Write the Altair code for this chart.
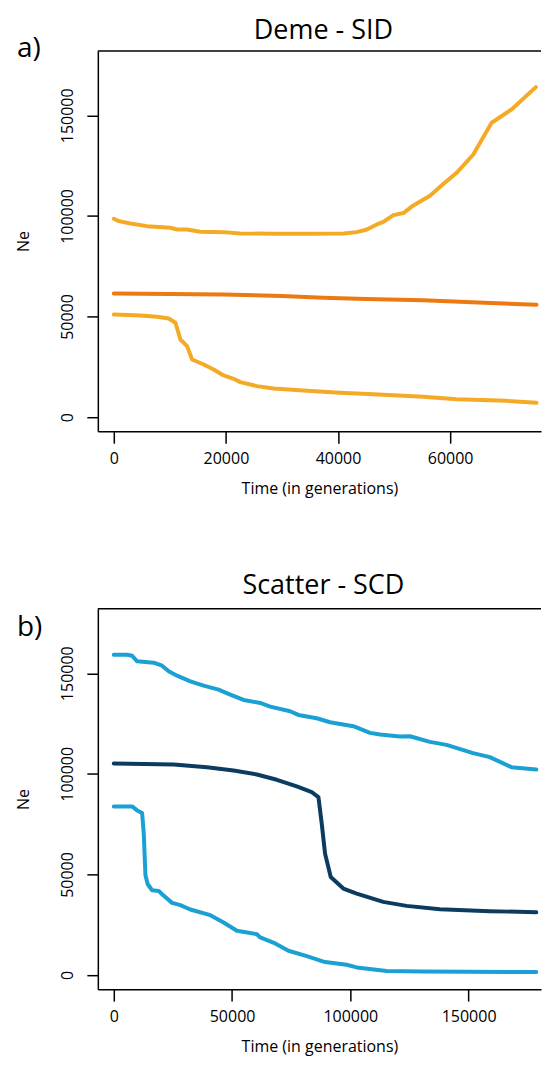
import altair as alt
import pandas as pd

# ---------------- Panel a) Deme - SID ----------------
a_upper_time = [0, 900, 2970, 5940, 10100, 11280, 13070, 15440, 19590, 22560, 28500,
                34440, 40960, 43350, 45130, 46910, 48090, 49870, 51650, 53430, 56400,
                58770, 61150, 64120, 67390, 70950, 75280]
a_upper_ne = [98560, 97400, 96240, 94910, 94080, 93250, 93250, 92090, 91930, 91270, 91100,
              91100, 91270, 91930, 93250, 95740, 97000, 100400, 101400, 105200, 110000,
              115800, 121400, 130500, 146300, 152900, 164000]

a_middle_time = [0, 10000, 19590, 30000, 37400, 45000, 55200, 65000, 75400]
a_middle_ne = [61440, 61200, 60950, 60200, 59290, 58700, 58130, 57000, 55820]

a_lower_time = [0, 4750, 7720, 9800, 10990, 11880, 13070, 13960, 16030, 17810, 19590,
                21370, 22560, 25530, 28500, 34440, 40370, 46300, 55200, 61150, 70050, 75400]
a_lower_ne = [51010, 50510, 49850, 49020, 46870, 38580, 35270, 28640, 26160, 23670, 20690,
              19040, 17380, 15390, 14230, 13070, 12080, 11410, 10090, 8930, 8100, 7110]

# ---------------- Panel b) Scatter - SCD ----------------
b_upper_time = [0, 5640, 7750, 9860, 16880, 20410, 23220, 26740, 32360, 37970, 44300,
                49240, 54850, 61890, 66110, 74550, 78050, 85800, 91420, 101260, 108300,
                112520, 120960, 125180, 133610, 140650, 151880, 158930, 168070, 178620]
b_upper_ne = [159220, 159220, 158720, 155910, 155250, 153760, 150950, 148800, 145990, 143840,
              141860, 139380, 136730, 135240, 133420, 131110, 129290, 127630, 125650, 123670,
              120360, 119540, 118540, 118700, 115900, 114410, 110280, 108290, 103330, 102180]

b_middle_time = [0, 25310, 39390, 50630, 60490, 68920, 77360, 83690, 86500, 87910, 89310,
                 91710, 97040, 102680, 113910, 123770, 137830, 158930, 178620]
b_middle_ne = [105150, 104660, 103330, 101680, 99700, 97050, 93740, 90930, 88450, 75230, 60350,
               48770, 42990, 40510, 36370, 34390, 32740, 31740, 31250]

b_lower_time = [0, 7750, 9860, 11970, 12670, 13370, 14360, 16190, 19000, 20410, 24630, 28140,
                32360, 40800, 46410, 52050, 60490, 61890, 68220, 73830, 81580, 89320, 98460,
                102680, 115330, 130790, 178620]
b_lower_ne = [83820, 83820, 81840, 80520, 70270, 49600, 45140, 42160, 41830, 40180, 35880, 34720,
              32570, 29760, 26120, 21990, 20340, 18680, 15710, 12070, 9420, 6450, 5120,
              3800, 1980, 1820, 1490]

titles = ["Deme - SID", "Scatter - SCD"]
panel_labels = ["a)", "b)"]
x_title = "Time (in generations)"
y_title = "Ne"
a_x_ticks = [0, 20000, 40000, 60000]
b_x_ticks = [0, 50000, 100000, 150000]
y_ticks = [0, 50000, 100000, 150000]

series_names = ["upper", "middle", "lower"]
a_colors = ["#F4AA25", "#EC7A12", "#F4AA25"]
b_colors = ["#1AA0D3", "#0B3C60", "#1AA0D3"]

FONT = "Open Sans"
W = 444
H = 381


def frame(series):
    rows = []
    for name, (ts, vs) in zip(series_names, series):
        for i, (t, v) in enumerate(zip(ts, vs)):
            rows.append({"series": name, "time": t, "ne": v, "order": i})
    return pd.DataFrame(rows)


df_a = frame([(a_upper_time, a_upper_ne), (a_middle_time, a_middle_ne), (a_lower_time, a_lower_ne)])
df_b = frame([(b_upper_time, b_upper_ne), (b_middle_time, b_middle_ne), (b_lower_time, b_lower_ne)])


def panel(df, title, title_y, label, label_y, xdomain, xticks, colors):
    x_axis = alt.Axis(values=xticks, format="d", title=x_title, grid=False,
                      domainColor="black", domainWidth=1.5, tickColor="black",
                      tickWidth=1.5, tickSize=12, labelFont=FONT, labelFontSize=16,
                      labelColor="black", labelPadding=7, titleFont=FONT,
                      titleFontSize=16, titleFontWeight="normal", titleColor="black",
                      titlePadding=14, labelFlush=False)
    y_axis = alt.Axis(values=y_ticks, format="d", title=y_title, grid=False,
                      domainColor="black", domainWidth=1.5, tickColor="black",
                      tickWidth=1.5, tickSize=11, labelFont=FONT, labelFontSize=16,
                      labelColor="black", labelAngle=270, labelAlign="center",
                      labelBaseline="alphabetic", labelPadding=14, titleFont=FONT,
                      titleFontSize=16, titleFontWeight="normal", titleColor="black",
                      titlePadding=28, labelFlush=False)
    lines = alt.Chart(df).mark_line(strokeWidth=4, strokeCap="round", strokeJoin="round").encode(
        x=alt.X("time:Q", scale=alt.Scale(domain=xdomain, nice=False, zero=False), axis=x_axis),
        y=alt.Y("ne:Q", scale=alt.Scale(domain=[-7000, 182000], nice=False, zero=False), axis=y_axis),
        color=alt.Color("series:N", scale=alt.Scale(domain=series_names, range=colors), legend=None),
        order="order:Q",
    )
    top = alt.Chart(pd.DataFrame({"k": [0]})).mark_rule(color="black", strokeWidth=1.5).encode(
        x=alt.value(0), x2=alt.value(W), y=alt.value(0)
    )
    lab = alt.Chart(pd.DataFrame({"label": [label]})).mark_text(
        font=FONT, fontSize=28, align="left", baseline="alphabetic", color="black"
    ).encode(text="label:N", x=alt.value(-81), y=alt.value(label_y))
    ttl = alt.Chart(pd.DataFrame({"t": [title]})).mark_text(
        font=FONT, fontSize=27, align="center", baseline="alphabetic", color="black"
    ).encode(text="t:N", x=alt.value(226), y=alt.value(title_y))
    return alt.layer(lines, top, lab, ttl).properties(width=W, height=H)


pa = panel(df_a, titles[0], -12, panel_labels[0], 6, [-2850, 76200], a_x_ticks, a_colors)
pb = panel(df_b, titles[1], -15, panel_labels[1], 27, [-6750, 180600], b_x_ticks, b_colors)

chart = alt.vconcat(pa, pb, spacing=76).resolve_scale(color="independent").configure(
    padding={"left": 8, "top": 8, "right": 0, "bottom": 4}
).configure_view(stroke=None)

chart.save("out.html", embed_options={"renderer": "svg", "actions": False})
